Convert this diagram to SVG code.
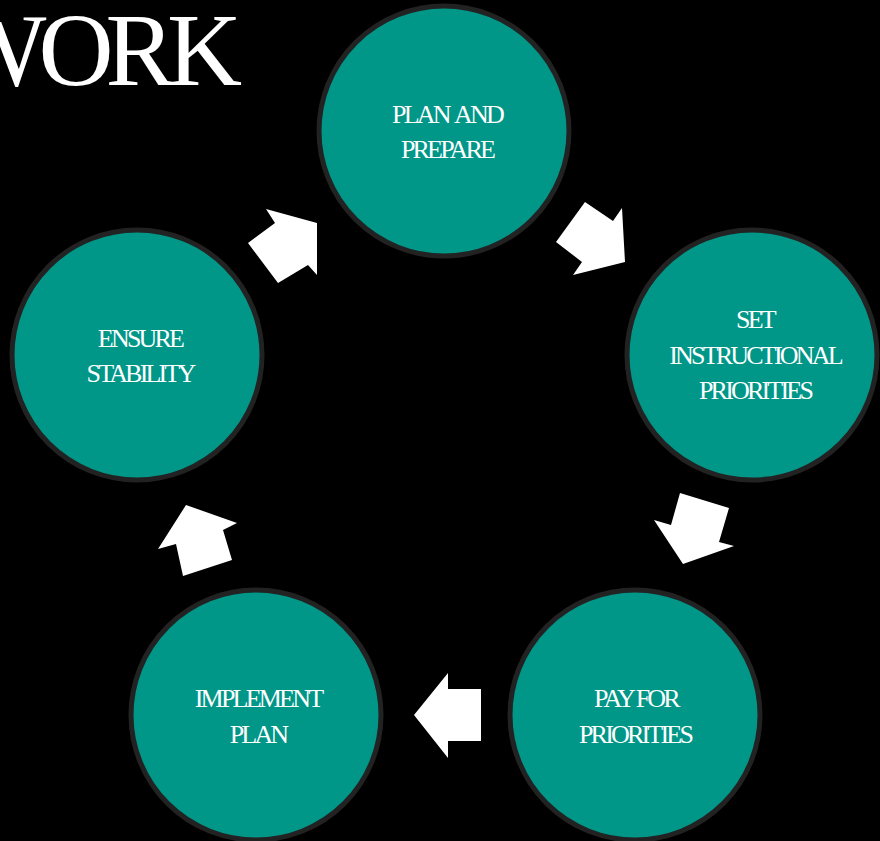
<svg xmlns="http://www.w3.org/2000/svg" width="880" height="841" viewBox="0 0 880 841">
<style>
.node circle{fill:#009688;stroke:#222222;stroke-width:5}
.node text{fill:#ffffff;font-family:"Liberation Serif","Times New Roman",serif;font-size:26px;letter-spacing:-2.8px;text-anchor:middle}
.title{fill:#ffffff;font-family:"Liberation Serif","Times New Roman",serif;font-size:104px;letter-spacing:-8px}
#connectors polygon{fill:#ffffff}
</style>
<rect width="880" height="841" fill="#000000"/>
<text class="title" x="234" y="85" text-anchor="end">WORK</text>
<g id="connectors">
<polygon points="585,202 613,221 622,208 625,262 573,275 582,262 556,242"/>
<polygon points="680,493 729,508 719,542 734,546 683,564 654,520 671,525"/>
<polygon points="481,689 481,741 448,741 448,758 414,715 448,673 448,689"/>
<polygon points="186,505 237,523 223,530 232,560 183,576 176,544 158,549"/>
<polygon points="266,209 317,223 317,275 308,265 278,283 248,243 275,223"/>
</g>
<g id="plan" class="node">
<circle cx="444" cy="131" r="125"/>
<text x="447" y="123" word-spacing="3">PLAN AND</text>
<text x="447" y="158">PREPARE</text>
</g>
<g id="set" class="node">
<circle cx="752" cy="355" r="125"/>
<text x="755" y="328">SET</text>
<text x="755" y="364">INSTRUCTIONAL</text>
<text x="755" y="399">PRIORITIES</text>
</g>
<g id="pay" class="node">
<circle cx="635" cy="715" r="125"/>
<text x="636" y="707">PAY FOR</text>
<text x="635" y="743">PRIORITIES</text>
</g>
<g id="implement" class="node">
<circle cx="256" cy="715" r="125"/>
<text x="258" y="707">IMPLEMENT</text>
<text x="258" y="743">PLAN</text>
</g>
<g id="ensure" class="node">
<circle cx="137" cy="355" r="125"/>
<text x="140" y="347">ENSURE</text>
<text x="140" y="382">STABILITY</text>
</g>
</svg>
